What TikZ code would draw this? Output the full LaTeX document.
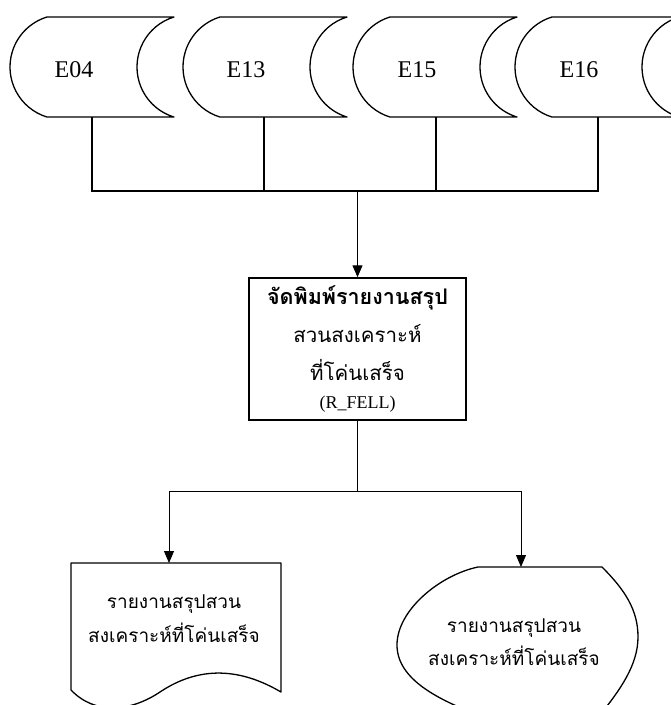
\documentclass[tikz,border=0pt]{standalone}
\usepackage{fontspec}
\setmainfont{Liberation Serif}
\newfontfamily\thaifont[Script=Thai]{Loma}
\usetikzlibrary{arrows.meta}
\tikzset{
  shp/.style={line width=1.3pt, line join=round},
  conn/.style={line width=1.2pt},
  thinconn/.style={line width=0.8pt},
  arr/.style={-{Triangle[length=12pt,width=10pt]}},
  elabel/.style={font=\fontsize{24}{24}\selectfont, inner sep=0pt},
  procbox/.style={draw, line width=1.5pt, minimum width=217pt, minimum height=142pt, inner sep=0pt, align=center,
    font=\thaifont\fontsize{20.5}{38}\selectfont},
  thaitext/.style={font=\thaifont\fontsize{19}{34}\selectfont, align=center, inner sep=0pt},
}
\newcommand\storedshape[1]{%
  \draw[shp] (#1,17) -- ++(127,0) arc[start angle=253,end angle=107,radius=52.3]
    -- ++(-127,0) arc[start angle=107,end angle=253,radius=52.3] -- cycle;}
\begin{document}
\begin{tikzpicture}[x=1pt,y=-1pt]
\useasboundingbox (0,0) rectangle (671,705);
\clip (0,0) rectangle (671,705);
\fill[white] (0,0) rectangle (671,705);
% stored data shapes
\storedshape{47}
\storedshape{220}
\storedshape{390}
\storedshape{552}
\node[elabel] (e04) at (74,70) {E04};
\node[elabel] (e13) at (246,70) {E13};
\node[elabel] (e15) at (417,70) {E15};
\node[elabel] (e16) at (579,70) {E16};
\coordinate (e04s) at (92,117);
\coordinate (e13s) at (264,117);
\coordinate (e15s) at (436,117);
\coordinate (e16s) at (598,117);
\coordinate (j) at (357.5,191);
% process box
\node[procbox] (proc) at (357.5,349) {{\bfseries\fontsize{21.5}{38}\selectfont จัดพิมพ์รายงานสรุป}\\ สวนสงเคราะห์\\ ที่โค่นเสร็จ\\[-10pt] {\rmfamily\fontsize{18}{18}\selectfont (R\_FELL)}};
\draw[conn] (e04s) |- (j);
\draw[conn] (e13s) -- (e13s |- j);
\draw[conn] (e15s) -- (e15s |- j);
\draw[conn] (e16s) |- (j);
\draw[conn,arr] (j) -- (proc.north);
% lower branch
\coordinate (k) at (357.5,491);
\coordinate (docin) at (169,563);
\coordinate (dispin) at (521,567);
\draw[conn] (proc.south) -- (k);
\draw[thinconn,arr] (k) -| (docin);
\draw[thinconn,arr] (k) -| (dispin);
% document shape
\draw[shp] (71,563) -- (281,563) -- (281,692)
  .. controls (230,662) and (190,672) .. (160,692)
  .. controls (130,712) and (95,715) .. (71,690) -- cycle;
\node[thaitext] (doctext) at (174,619) {รายงานสรุปสวน\\สงเคราะห์ที่โค่นเสร็จ};
% display shape
\draw[shp] (478,567) -- (602,567) .. controls (625,590) and (638,610) .. (638,637)
  .. controls (638,665) and (620,690) .. (600,715) -- (478,715)
  .. controls (440,700) and (397,680) .. (397,645)
  .. controls (397,610) and (440,575) .. (478,567) -- cycle;
\node[thaitext,font=\thaifont\fontsize{19}{33}\selectfont] (disptext) at (514,642) {รายงานสรุปสวน\\สงเคราะห์ที่โค่นเสร็จ};
\end{tikzpicture}
\end{document}
